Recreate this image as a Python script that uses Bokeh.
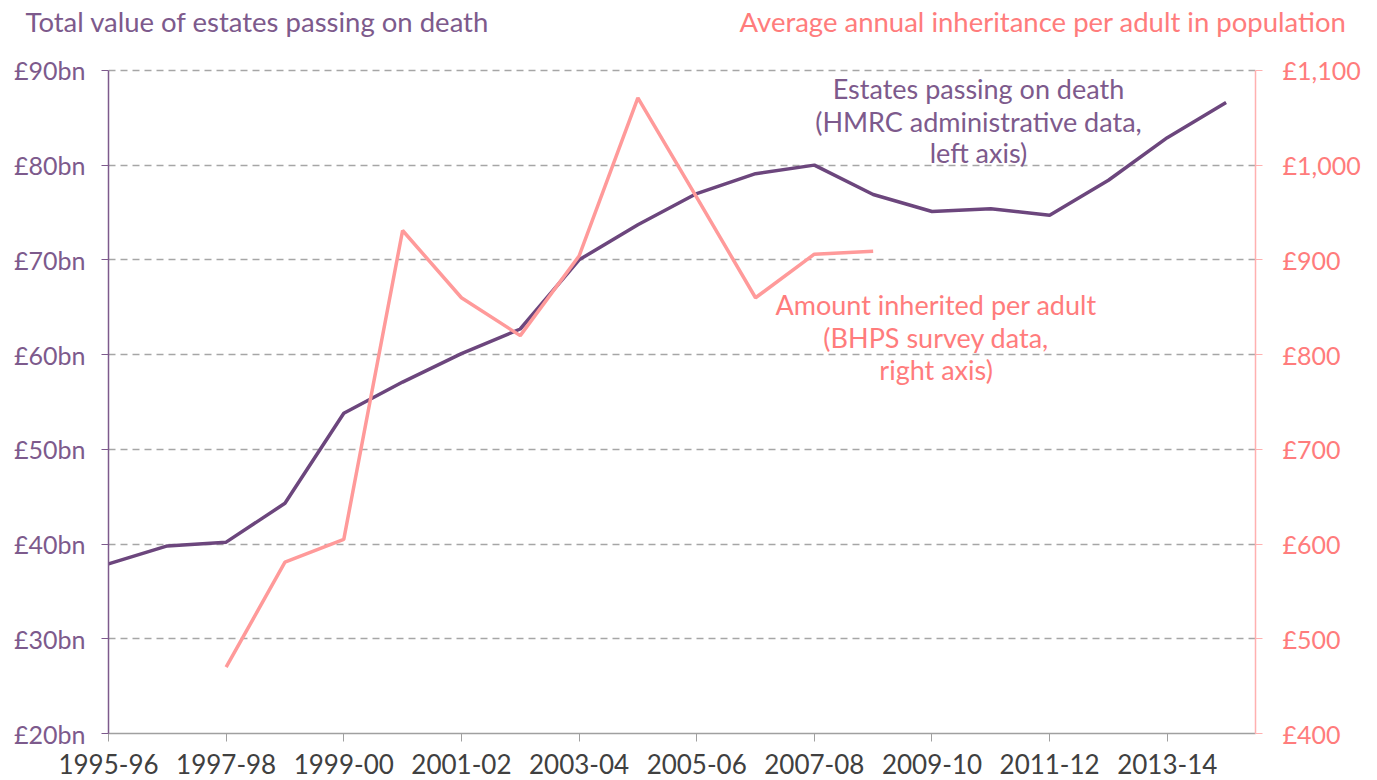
from bokeh.plotting import figure
from bokeh.layouts import column
from bokeh.models import Range1d, LinearAxis, FixedTicker, Label
from bokeh.embed import file_html
from bokeh.resources import INLINE

years = ["1995-96", "1996-97", "1997-98", "1998-99", "1999-00", "2000-01", "2001-02",
         "2002-03", "2003-04", "2004-05", "2005-06", "2006-07", "2007-08", "2008-09",
         "2009-10", "2010-11", "2011-12", "2012-13", "2013-14", "2014-15"]
estates_bn = [37.9, 39.8, 40.2, 44.3, 53.8, 57.1, 60.1, 62.7, 70.0, 73.7, 77.0, 79.1,
              80.0, 76.9, 75.1, 75.4, 74.7, 78.4, 82.9, 86.6]
nan = float("nan")
inherit_per_adult = [nan, nan, 470, 581, 605, 931, 860, 820, 904, 1071, 966, 860,
                     906, 909, nan, nan, nan, nan, nan, nan]

left_ticks = [20, 30, 40, 50, 60, 70, 80, 90]
left_labels = ["£20bn", "£30bn", "£40bn", "£50bn", "£60bn", "£70bn", "£80bn", "£90bn"]
right_ticks = [400, 500, 600, 700, 800, 900, 1000, 1100]
right_labels = ["£400", "£500", "£600", "£700", "£800", "£900", "£1,000", "£1,100"]

PURPLE = "#6C467D"
PURPLE_TXT = "#7D5A8C"
PINK = "#FF9A9A"
PINK_TXT = "#FF7C7C"
FONT = "Lato"
W = 1377
HDR_H = 46

# ---------- header with the two axis titles ----------
hdr = figure(width=W, height=HDR_H, output_backend="svg", toolbar_location=None,
             x_range=Range1d(0, W), y_range=Range1d(0, HDR_H),
             x_axis_location=None, y_axis_location=None,
             min_border=0, min_border_left=0, min_border_right=0,
             min_border_top=0, min_border_bottom=0)
hdr.frame_align = False
hdr.outline_line_color = None
hdr.grid.visible = False
hdr.add_layout(Label(x=25, y=HDR_H - 21, text="Total value of estates passing on death",
                     text_color=PURPLE_TXT, text_font=FONT, text_font_size="27.5px",
                     text_align="left", text_baseline="middle"))
hdr.add_layout(Label(x=1346, y=HDR_H - 21, text="Average annual inheritance per adult in population",
                     text_color=PINK_TXT, text_font=FONT, text_font_size="27.5px",
                     text_align="right", text_baseline="middle"))

# ---------- main chart ----------
x = list(range(len(years)))

p = figure(width=W, height=780 - HDR_H, output_backend="svg", toolbar_location=None,
           x_range=Range1d(0, 19.5), y_range=Range1d(20, 90.2),
           min_border_left=108, min_border_right=122, min_border_top=68 - HDR_H,
           min_border_bottom=47, y_axis_location=None)
p.frame_align = False
p.outline_line_color = None
p.extra_y_ranges = {"right": Range1d(400, 1102)}

p.xgrid.visible = False
p.ygrid.ticker = FixedTicker(ticks=left_ticks[1:])
p.ygrid.grid_line_color = "#A6A6A6"
p.ygrid.grid_line_dash = "7 5"
p.ygrid.grid_line_width = 1.5

la = LinearAxis(ticker=FixedTicker(ticks=left_ticks), bounds=(20, 90))
la.major_label_overrides = {t: l for t, l in zip(left_ticks, left_labels)}
la.axis_line_color = PURPLE_TXT
la.axis_line_width = 1.5
la.major_tick_line_color = PURPLE_TXT
la.major_tick_out = 7
la.major_tick_in = 0
la.minor_tick_line_color = None
la.major_label_text_color = PURPLE_TXT
la.major_label_text_font = FONT
la.major_label_text_font_size = "25px"
la.major_label_standoff = 16
p.add_layout(la, "left")

ra = LinearAxis(y_range_name="right", ticker=FixedTicker(ticks=right_ticks), bounds=(400, 1100))
ra.major_label_overrides = {t: l for t, l in zip(right_ticks, right_labels)}
ra.axis_line_color = "#FFB0B0"
ra.axis_line_width = 1.5
ra.major_tick_line_color = "#FFB0B0"
ra.major_tick_out = 7
ra.major_tick_in = 0
ra.minor_tick_line_color = None
ra.major_label_text_color = PINK_TXT
ra.major_label_text_font = FONT
ra.major_label_text_font_size = "25px"
ra.major_label_standoff = 20
p.add_layout(ra, "right")

xa = p.xaxis[0]
xa.ticker = FixedTicker(ticks=list(range(0, 20, 2)))
xa.major_label_overrides = {i: years[i] for i in range(0, 20, 2)}
xa.axis_line_color = "#A0A0A0"
xa.axis_line_width = 1.5
xa.major_tick_line_color = "#A0A0A0"
xa.major_tick_out = 8
xa.major_tick_in = 0
xa.minor_tick_line_color = None
xa.major_label_text_color = "#404040"
xa.major_label_text_font = FONT
xa.major_label_text_font_size = "26px"
xa.major_label_standoff = 12

p.line(x, estates_bn, line_color=PURPLE, line_width=3.5)
p.line(x, inherit_per_adult, line_color=PINK, line_width=3.5, y_range_name="right")

def lab(xv, yv, text, color):
    p.add_layout(Label(x=xv, y=yv, text=text, text_color=color, text_font=FONT,
                       text_font_size="27px", text_align="center", text_baseline="middle"))

lab(14.79, 88.1, "Estates passing on death", PURPLE_TXT)
lab(14.79, 84.6, "(HMRC administrative data,", PURPLE_TXT)
lab(14.79, 81.3, "left axis)", PURPLE_TXT)
lab(14.07, 65.3, "Amount inherited per adult", PINK_TXT)
lab(14.07, 61.8, "(BHPS survey data,", PINK_TXT)
lab(14.07, 58.4, "right axis)", PINK_TXT)

layout = column(hdr, p, spacing=0)
open("out.html", "w").write(file_html(layout, INLINE))
